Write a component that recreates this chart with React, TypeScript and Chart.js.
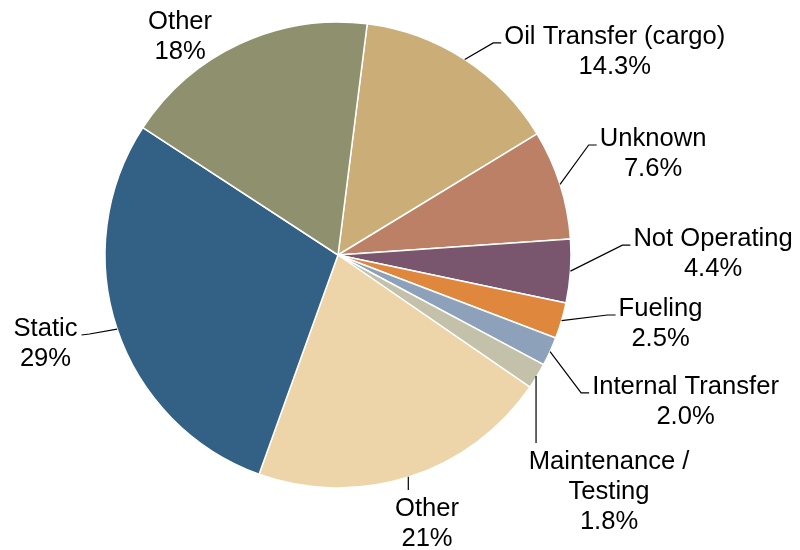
import React, { useEffect, useRef } from "react";
import { Chart, registerables } from "chart.js";

Chart.register(...registerables);

// ---- Data ----
const categories = [
  "Oil Transfer (cargo)",
  "Unknown",
  "Not Operating",
  "Fueling",
  "Internal Transfer",
  "Maintenance / Testing",
  "Other",
  "Static",
  "Other",
];
const shares = [14.3, 7.6, 4.4, 2.5, 2.0, 1.8, 20.9, 28.7, 17.8];
const percentLabels = ["14.3%", "7.6%", "4.4%", "2.5%", "2.0%", "1.8%", "21%", "29%", "18%"];
const labelLines = [
  ["Oil Transfer (cargo)"],
  ["Unknown"],
  ["Not Operating"],
  ["Fueling"],
  ["Internal Transfer"],
  ["Maintenance /", "Testing"],
  ["Other"],
  ["Static"],
  ["Other"],
];

// ---- Styles ----
const sliceColors = [
  "#CBAD78",
  "#BB8065",
  "#7A566E",
  "#E0873E",
  "#8DA2BA",
  "#C3C1A9",
  "#EDD4A9",
  "#336186",
  "#8F916E",
];

// label placement relative to the slice's outer mid-point (dx, dy to centre of first text line)
type LeaderKind = "right" | "left" | "below" | "none";
const labelLayout: { dx: number; dy: number; leader: LeaderKind }[] = [
  { dx: 150, dy: -24.5, leader: "right" },
  { dx: 93, dy: -47.4, leader: "right" },
  { dx: 142.6, dy: -34, leader: "right" },
  { dx: 99, dy: -13.7, leader: "right" },
  { dx: 135.5, dy: 33.4, leader: "right" },
  { dx: 72, dy: 84, leader: "below" },
  { dx: 17.7, dy: 30.2, leader: "below" },
  { dx: -71.6, dy: -2.1, leader: "left" },
  { dx: -60, dy: -23.6, leader: "none" },
];

const FONT_SIZE = 25.6;
const LINE_H = 30;
const FONT = `${FONT_SIZE}px "Liberation Sans", Arial, sans-serif`;

const outsideLabels = {
  id: "outsideLabels",
  afterDraw(chart: any) {
    const ctx: CanvasRenderingContext2D = chart.ctx;
    const meta = chart.getDatasetMeta(0);
    ctx.save();
    ctx.font = FONT;
    ctx.fillStyle = "#000";
    ctx.strokeStyle = "#000";
    ctx.lineWidth = 1.2;
    meta.data.forEach((arc: any, i: number) => {
      const { x, y, startAngle, endAngle, outerRadius } = arc.getProps(
        ["x", "y", "startAngle", "endAngle", "outerRadius"],
        true
      );
      const mid = (startAngle + endAngle) / 2;
      const px = x + outerRadius * Math.cos(mid);
      const py = y + outerRadius * Math.sin(mid);
      const lay = labelLayout[i];
      const cx = px + lay.dx;
      const cy = py + lay.dy;
      const lines = [...labelLines[i], percentLabels[i]];
      const maxW = Math.max(...lines.map((l) => ctx.measureText(l).width));
      const left = cx - maxW / 2;
      const right = cx + maxW / 2;

      ctx.beginPath();
      if (lay.leader === "right") {
        ctx.moveTo(px, py);
        ctx.lineTo(left - 11, cy + 8);
        ctx.lineTo(left - 3, cy + 8);
        ctx.stroke();
      } else if (lay.leader === "left") {
        ctx.moveTo(px, py);
        ctx.lineTo(right + 12, cy + 7);
        ctx.lineTo(right + 4, cy + 8);
        ctx.stroke();
      } else if (lay.leader === "below") {
        ctx.moveTo(px - 1, py);
        ctx.lineTo(px - 1, cy - 17);
        ctx.stroke();
      }

      ctx.textAlign = "center";
      ctx.textBaseline = "alphabetic";
      lines.forEach((line, k) => {
        ctx.fillText(line, cx, cy + k * LINE_H + 9);
      });
    });
    ctx.restore();
  },
};

export default function App() {
  const canvasRef = useRef<HTMLCanvasElement | null>(null);

  useEffect(() => {
    if (!canvasRef.current) return;
    const chart = new Chart(canvasRef.current, {
      type: "pie",
      data: {
        labels: categories,
        datasets: [
          {
            data: shares,
            backgroundColor: sliceColors,
            borderColor: "#ffffff",
            borderWidth: 1.5,
          },
        ],
      },
      options: {
        responsive: false,
        animation: false,
        rotation: 7.2,
        radius: 233,
        layout: { padding: { left: 0, right: 124, top: 0, bottom: 40 } },
        plugins: {
          legend: { display: false },
          tooltip: { enabled: false },
        },
      } as any,
      plugins: [outsideLabels],
    });
    return () => chart.destroy();
  }, []);

  return (
    <div style={{ position: "fixed", left: 0, top: 0, width: 800, height: 550, background: "#fff" }}>
      <canvas ref={canvasRef} width={800} height={550} />
    </div>
  );
}
